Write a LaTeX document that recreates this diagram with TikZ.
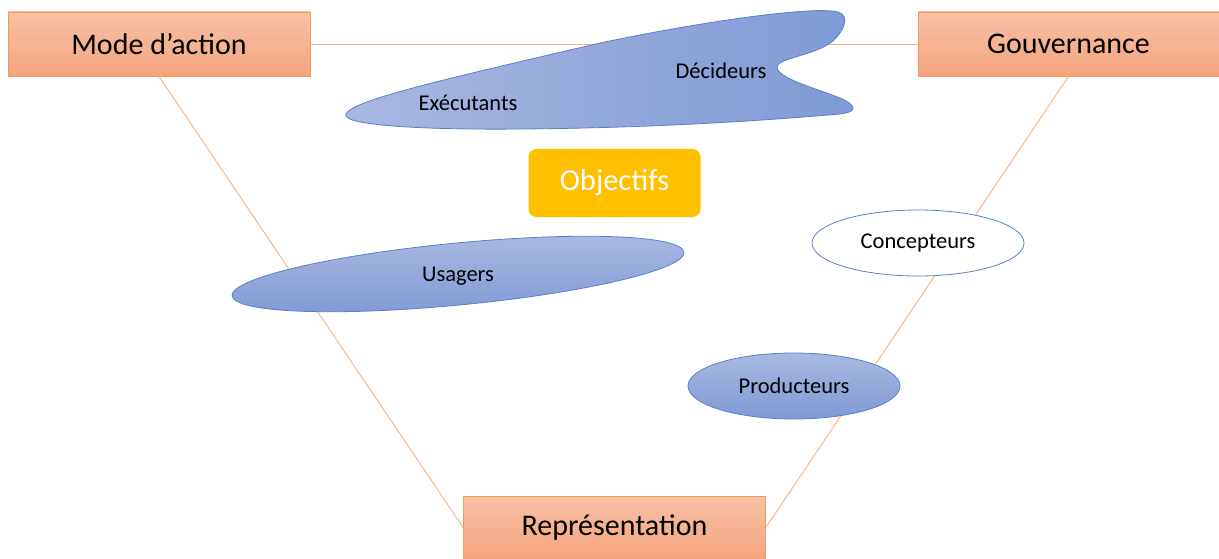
\documentclass[tikz,border=0pt]{standalone}
\usepackage{fontspec}
\setmainfont{Carlito}
\usetikzlibrary{shapes.geometric}
\definecolor{orangetop}{HTML}{F8C1A6}
\definecolor{orangebot}{HTML}{F4A47C}
\definecolor{orangeedge}{HTML}{F09A5E}
\definecolor{orangeline}{HTML}{F4B183}
\definecolor{bluelight}{HTML}{A9B8E1}
\definecolor{bluedark}{HTML}{7F9AD5}
\definecolor{blueedge}{HTML}{5B80CA}
\definecolor{gold}{HTML}{FFC000}
\begin{document}
\begin{tikzpicture}[x=1pt,y=-1pt,
  box/.style={draw=orangeedge,line width=0.8pt,top color=orangetop,bottom color=orangebot,
    minimum width=302pt,minimum height=64pt,inner sep=0pt,font=\fontsize{30}{35}\selectfont},
  link/.style={draw=orangeline,line width=0.9pt},
  group/.style={draw=blueedge,line width=0.8pt,top color=bluelight,bottom color=bluedark},
  bubble/.style={ellipse,draw=blueedge,line width=0.8pt,minimum width=212pt,minimum height=66pt,
    inner sep=0pt,font=\fontsize{22.5}{27}\selectfont},
  tag/.style={inner sep=0pt,font=\fontsize{22.5}{27}\selectfont}]
\useasboundingbox (0,0) rectangle (1219,559);
% the three poles
\node[box] (mode) at (159,44) {Mode d’action};
\node[box,minimum width=301pt] (gouv) at (1068.5,44) {Gouvernance};
\node[box,minimum height=63pt] (repr) at (614.5,527.5) {Représentation};
\draw[link] (mode.east) -- (gouv.west);
\draw[link] (mode.south) -- (repr.west);
\draw[link] (gouv.south) -- (repr.east);
% actors
\draw[draw=blueedge,line width=0.8pt,left color=bluelight,right color=bluedark]
  (346,114) .. controls (352,100) and (450,78) .. (600,43)
  .. controls (700,22) and (800,8) .. (832,11)
  .. controls (850,12) and (848,26) .. (833,41)
  .. controls (815,56) and (775,58) .. (777,68)
  .. controls (780,79) and (815,88) .. (840,98)
  .. controls (858,106) and (857,112) .. (840,114)
  .. controls (760,121) and (650,128) .. (520,129)
  .. controls (420,130) and (340,125) .. (346,114) -- cycle;
\node[tag] (exec) at (468,103) {Exécutants};
\node[tag] (deci) at (721,71) {Décideurs};
\draw[group,rotate around={5.5:(458,274)}] (458,274) ellipse [x radius=227,y radius=31];
\node[tag] (usag) at (458,276) {Usagers};
\node[bubble,fill=white] (conc) at (918,243) {Concepteurs};
\node[bubble,top color=bluelight,bottom color=bluedark] (prod) at (794,386) {Producteurs};
% goal
\node[rounded corners=8pt,fill=gold,text=white,minimum width=172pt,minimum height=68pt,
  inner sep=0pt,font=\fontsize{30.5}{36}\selectfont] (obj) at (614.5,183) {Objectifs};
\end{tikzpicture}
\end{document}
